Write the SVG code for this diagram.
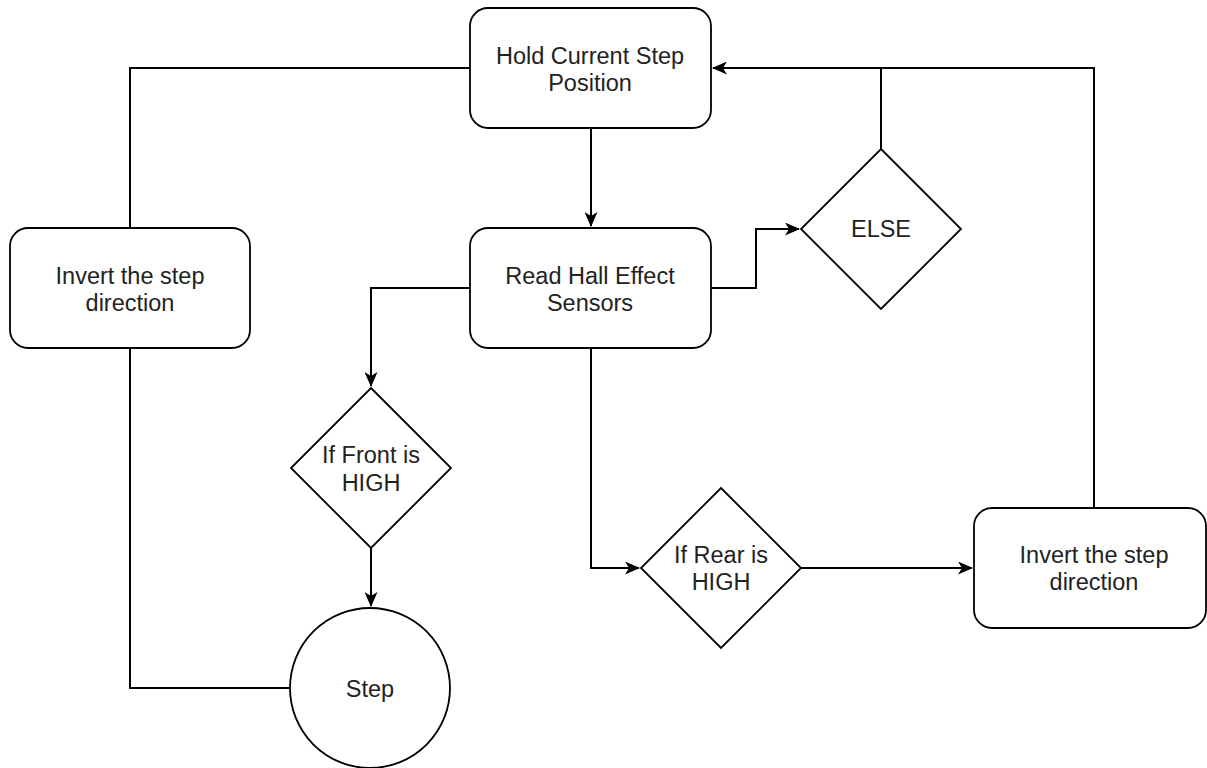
<svg xmlns="http://www.w3.org/2000/svg" width="1207" height="768" viewBox="0 0 1207 768">
<defs>
<marker id="arr" viewBox="0 0 15 13" refX="14" refY="6.5" markerWidth="15" markerHeight="13" markerUnits="userSpaceOnUse" orient="auto">
<path d="M0,0 L15,6.5 L0,13 L4,6.5 Z" fill="#000"/>
</marker>
<style>
.shape{fill:#fff;stroke:#000;stroke-width:1.8}
.edge{fill:none;stroke:#000;stroke-width:2}
.lbl{font-family:"Liberation Sans",Arial,sans-serif;font-size:23.5px;fill:#222;text-anchor:middle}
</style>
</defs>
<rect width="1207" height="768" fill="#fff"/>
<g id="connectors">
<path class="edge" d="M591,128 V226" marker-end="url(#arr)"/>
<path class="edge" d="M470,288 H371 V386" marker-end="url(#arr)"/>
<path class="edge" d="M711,288 H756 V229 H799" marker-end="url(#arr)"/>
<path class="edge" d="M591,348 V568 H639" marker-end="url(#arr)"/>
<path class="edge" d="M801,568 H972" marker-end="url(#arr)"/>
<path class="edge" d="M371,548 V606" marker-end="url(#arr)"/>
<path class="edge" d="M290,688 H130 V348"/>
<path class="edge" d="M130,228 V68 H470"/>
<path class="edge" d="M1094,508 V68 H713" marker-end="url(#arr)"/>
<path class="edge" d="M881,149 V68"/>
</g>
<g id="hold">
<rect class="shape" x="470" y="8" width="241" height="120" rx="18"/>
<text class="lbl" x="590" y="64">Hold Current Step</text>
<text class="lbl" x="590" y="91">Position</text>
</g>
<g id="read">
<rect class="shape" x="470" y="228" width="241" height="120" rx="18"/>
<text class="lbl" x="590" y="284">Read Hall Effect</text>
<text class="lbl" x="590" y="311">Sensors</text>
</g>
<g id="invert-left">
<rect class="shape" x="10" y="228" width="240" height="120" rx="18"/>
<text class="lbl" x="130" y="284">Invert the step</text>
<text class="lbl" x="130" y="311">direction</text>
</g>
<g id="else">
<polygon class="shape" points="881,149 961,229 881,309 801,229"/>
<text class="lbl" x="881" y="237">ELSE</text>
</g>
<g id="front">
<polygon class="shape" points="371,388 451,468 371,548 291,468"/>
<text class="lbl" x="371" y="463">If Front is</text>
<text class="lbl" x="371" y="491">HIGH</text>
</g>
<g id="rear">
<polygon class="shape" points="721,488 801,568 721,648 641,568"/>
<text class="lbl" x="721" y="563">If Rear is</text>
<text class="lbl" x="721" y="590">HIGH</text>
</g>
<g id="invert-right">
<rect class="shape" x="974" y="508" width="232" height="120" rx="18"/>
<text class="lbl" x="1094" y="563">Invert the step</text>
<text class="lbl" x="1094" y="590">direction</text>
</g>
<g id="step">
<circle class="shape" cx="370" cy="688" r="80"/>
<text class="lbl" x="370" y="697">Step</text>
</g>
</svg>
